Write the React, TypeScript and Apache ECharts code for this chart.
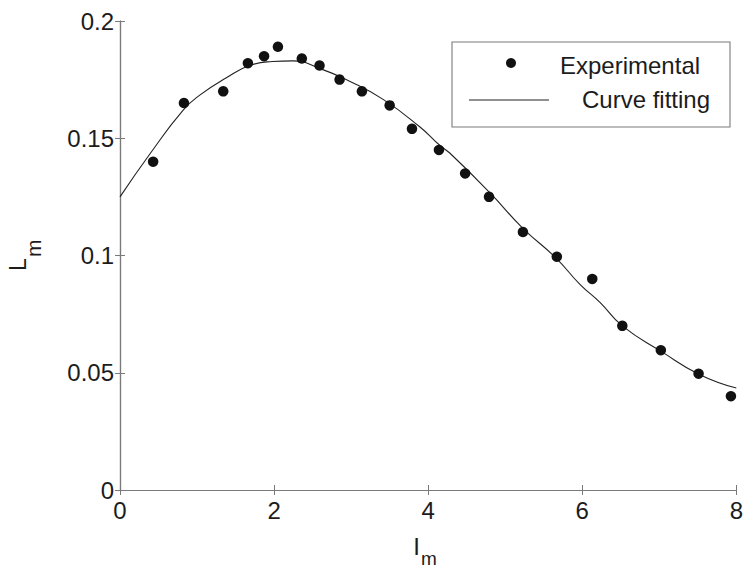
import React, { useEffect, useRef } from "react";
import * as echarts from "echarts";

// Measured points
const expX = [0.43, 0.83, 1.34, 1.66, 1.87, 2.05, 2.36, 2.59, 2.85, 3.14, 3.5, 3.79, 4.14, 4.48, 4.79, 5.23, 5.67, 6.13, 6.52, 7.02, 7.51, 7.93];
const expY = [0.14, 0.165, 0.17, 0.182, 0.185, 0.189, 0.184, 0.181, 0.175, 0.17, 0.164, 0.154, 0.145, 0.135, 0.125, 0.11, 0.0995, 0.09, 0.07, 0.0596, 0.0496, 0.04];

// Fitted curve samples
const fitX = [0, 0.39, 0.82, 1.04, 1.38, 1.69, 1.98, 2.24, 2.59, 2.98, 3.41, 3.89, 4.15, 4.28, 4.8, 5.23, 5.66, 5.97, 6.23, 6.52, 7.03, 7.52, 8.0];
const fitY = [0.125, 0.1434, 0.162, 0.1685, 0.1758, 0.1811, 0.1827, 0.183, 0.1798, 0.1743, 0.1667, 0.1549, 0.147, 0.1437, 0.1268, 0.1116, 0.0989, 0.0877, 0.08, 0.07, 0.059, 0.0493, 0.0435];

const xTicks = [0, 2, 4, 6, 8];
const yTicks = [0, 0.05, 0.1, 0.15, 0.2];

const legendNames = ["Experimental", "Curve fitting"];

const FONT = "'Liberation Sans', Arial, sans-serif";
const AXIS_COLOR = "#7a7a7a";
const TEXT_COLOR = "#1c1c1c";

export default function App() {
  const ref = useRef<HTMLDivElement>(null);

  useEffect(() => {
    document.body.style.margin = "0";
    if (!ref.current) return;
    const chart = echarts.init(ref.current, null, { renderer: "svg" });

    const tickLabel = {
      fontFamily: FONT,
      fontSize: 24,
      color: TEXT_COLOR,
    };

    const baseAxisLine = { show: true, lineStyle: { color: AXIS_COLOR, width: 1.2 } };
    const baseTick = { show: true, inside: true, length: 5, lineStyle: { color: AXIS_COLOR, width: 1 } };

    chart.setOption({
      animation: false,
      backgroundColor: "#ffffff",
      grid: { left: 120, right: 9, top: 21, bottom: 81 },
      xAxis: [
        {
          type: "value",
          min: xTicks[0],
          max: xTicks[xTicks.length - 1],
          interval: 2,
          axisLine: baseAxisLine,
          axisTick: baseTick,
          splitLine: { show: false },
          axisLabel: { ...tickLabel, margin: 8 },
        },
        {
          type: "value",
          position: "top",
          min: xTicks[0],
          max: xTicks[xTicks.length - 1],
          interval: 2,
          axisLine: baseAxisLine,
          axisTick: baseTick,
          splitLine: { show: false },
          axisLabel: { show: false },
        },
      ],
      yAxis: [
        {
          type: "value",
          min: yTicks[0],
          max: yTicks[yTicks.length - 1],
          interval: 0.05,
          axisLine: baseAxisLine,
          axisTick: baseTick,
          splitLine: { show: false },
          axisLabel: { ...tickLabel, margin: 6 },
        },
        {
          type: "value",
          position: "right",
          min: yTicks[0],
          max: yTicks[yTicks.length - 1],
          interval: 0.05,
          axisLine: baseAxisLine,
          axisTick: baseTick,
          splitLine: { show: false },
          axisLabel: { show: false },
        },
      ],
      series: [
        {
          name: legendNames[1],
          type: "line",
          data: fitX.map((x, i) => [x, fitY[i]]),
          smooth: 0.5,
          showSymbol: false,
          lineStyle: { color: "#222", width: 1.1 },
          z: 2,
        },
        {
          name: legendNames[0],
          type: "scatter",
          data: expX.map((x, i) => [x, expY[i]]),
          symbol: "circle",
          symbolSize: 10.5,
          itemStyle: { color: "#111", opacity: 1 },
          z: 3,
        },
      ],
      graphic: [
        // Legend box
        {
          type: "rect",
          shape: { x: 452, y: 42, width: 278, height: 85 },
          style: { fill: "#fff", stroke: AXIS_COLOR, lineWidth: 1.1 },
          z: 10,
        },
        {
          type: "circle",
          shape: { cx: 511, cy: 63, r: 5 },
          style: { fill: "#111" },
          z: 11,
        },
        {
          type: "text",
          x: 560,
          y: 65,
          style: {
            text: legendNames[0],
            font: `24px ${FONT}`,
            fill: TEXT_COLOR,
            verticalAlign: "middle",
          },
          z: 11,
        },
        {
          type: "line",
          shape: { x1: 469, y1: 100, x2: 549, y2: 100 },
          style: { stroke: "#222", lineWidth: 1.1 },
          z: 11,
        },
        {
          type: "text",
          x: 582,
          y: 99,
          style: {
            text: legendNames[1],
            font: `24px ${FONT}`,
            fill: TEXT_COLOR,
            verticalAlign: "middle",
          },
          z: 11,
        },
        // x axis title: I with subscript m
        {
          type: "text",
          x: 416.5,
          y: 546,
          style: {
            text: "I",
            font: `24px ${FONT}`,
            fill: TEXT_COLOR,
            align: "center",
            verticalAlign: "middle",
          },
        },
        {
          type: "text",
          x: 421,
          y: 558,
          style: {
            text: "m",
            font: `19px ${FONT}`,
            fill: TEXT_COLOR,
            align: "left",
            verticalAlign: "middle",
          },
        },
        // y axis title: L with subscript m, reading upward
        {
          type: "text",
          x: 18,
          y: 271,
          rotation: Math.PI / 2,
          style: {
            text: "L",
            font: `23px ${FONT}`,
            fill: TEXT_COLOR,
            align: "left",
            verticalAlign: "middle",
          },
        },
        {
          type: "text",
          x: 33.5,
          y: 257,
          rotation: Math.PI / 2,
          style: {
            text: "m",
            font: `21px ${FONT}`,
            fill: TEXT_COLOR,
            align: "left",
            verticalAlign: "middle",
          },
        },
      ],
    });

    return () => chart.dispose();
  }, []);

  return <div ref={ref} style={{ width: 746, height: 571 }} />;
}
